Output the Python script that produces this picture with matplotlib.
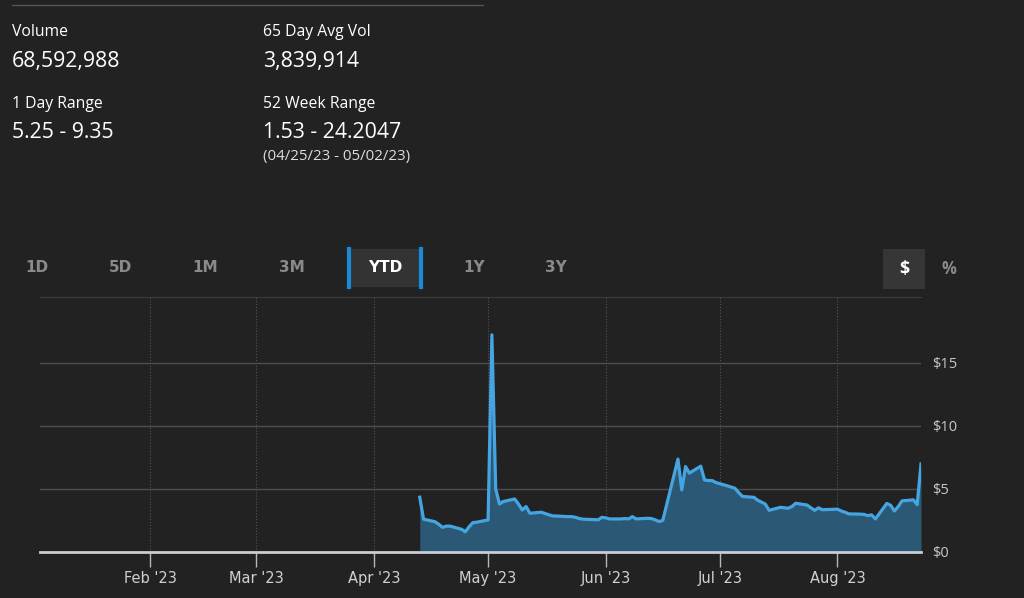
import numpy as np
import pandas as pd
import matplotlib
matplotlib.use("Agg")
import matplotlib.pyplot as plt
import matplotlib.dates as mdates
from matplotlib.patches import Rectangle
from matplotlib.lines import Line2D

# -------- DATA --------
dates = pd.to_datetime([
    "2023-04-13", "2023-04-14", "2023-04-17", "2023-04-18", "2023-04-19", "2023-04-20", "2023-04-21",
    "2023-04-24", "2023-04-25", "2023-04-26", "2023-04-27", "2023-04-28",
    "2023-05-01", "2023-05-02", "2023-05-03", "2023-05-04", "2023-05-05",
    "2023-05-08", "2023-05-09", "2023-05-10", "2023-05-11", "2023-05-12",
    "2023-05-15", "2023-05-16", "2023-05-17", "2023-05-18", "2023-05-19",
    "2023-05-22", "2023-05-23", "2023-05-24", "2023-05-25", "2023-05-26",
    "2023-05-30", "2023-05-31", "2023-06-01", "2023-06-02",
    "2023-06-05", "2023-06-06", "2023-06-07", "2023-06-08", "2023-06-09",
    "2023-06-12", "2023-06-13", "2023-06-14", "2023-06-15", "2023-06-16",
    "2023-06-20", "2023-06-21", "2023-06-22", "2023-06-23",
    "2023-06-26", "2023-06-27", "2023-06-28", "2023-06-29", "2023-06-30",
    "2023-07-03", "2023-07-05", "2023-07-06", "2023-07-07",
    "2023-07-10", "2023-07-11", "2023-07-12", "2023-07-13", "2023-07-14",
    "2023-07-17", "2023-07-18", "2023-07-19", "2023-07-20", "2023-07-21",
    "2023-07-24", "2023-07-25", "2023-07-26", "2023-07-27", "2023-07-28",
    "2023-07-31", "2023-08-01", "2023-08-02", "2023-08-03", "2023-08-04",
    "2023-08-07", "2023-08-08", "2023-08-09", "2023-08-10", "2023-08-11",
    "2023-08-14", "2023-08-15", "2023-08-16", "2023-08-17", "2023-08-18",
    "2023-08-21", "2023-08-22", "2023-08-23",
])
prices = [
    4.34, 2.60, 2.40, 2.20, 1.95, 2.05, 2.05,
    1.80, 1.60, 2.00, 2.33, 2.36,
    2.54, 17.20, 5.00, 3.80, 4.00,
    4.20, 3.80, 3.33, 3.60, 3.07,
    3.15, 3.05, 2.95, 2.86, 2.85,
    2.80, 2.80, 2.75, 2.65, 2.60,
    2.55, 2.75, 2.70, 2.62,
    2.62, 2.65, 2.62, 2.80, 2.62,
    2.67, 2.65, 2.55, 2.41, 2.50,
    7.36, 4.92, 6.77, 6.25,
    6.80, 5.70, 5.66, 5.66, 5.50,
    5.24, 5.05, 4.70, 4.40,
    4.33, 4.10, 3.95, 3.80, 3.30,
    3.54, 3.50, 3.47, 3.60, 3.86,
    3.72, 3.50, 3.30, 3.50, 3.35,
    3.38, 3.39, 3.25, 3.15, 3.02,
    3.00, 2.98, 2.88, 2.94, 2.62,
    3.85, 3.70, 3.25, 3.60, 4.05,
    4.13, 3.75, 6.98,
]

stat_labels = ["Volume", "65 Day Avg Vol", "1 Day Range", "52 Week Range"]
stat_values = ["68,592,988", "3,839,914", "5.25 - 9.35", "1.53 - 24.2047"]
range_dates = "(04/25/23 - 05/02/23)"
tabs = ["1D", "5D", "1M", "3M", "YTD", "1Y", "3Y"]
active_tab = "YTD"
y_ticks = [0, 5, 10, 15]

# -------- STYLE --------
BG = "#222222"
LINE = "#45a5e3"
FILL = "#2b5875"
W, H = 1024, 598
MAIN_FONT = ["Open Sans", "DejaVu Sans"]
NARROW = ["Liberation Sans Narrow", "DejaVu Sans"]

fig = plt.figure(figsize=(W / 100, H / 100), dpi=100, facecolor=BG)


def px(x, y):
    return x / W, 1 - y / H


# -------- HEADER STATS --------
fig.add_artist(Line2D([12 / W, 483 / W], [1 - 5 / H] * 2, color="#555555", lw=1))
pos = [(12, 32), (263, 32), (12, 104), (263, 104)]
for (x, y), lab, val in zip(pos, stat_labels, stat_values):
    fig.text(*px(x, y), lab, color="#ffffff", fontsize=11.3, family=MAIN_FONT, va="center")
    fig.text(*px(x, y + 29), val, color="#ffffff", fontsize=15.3, family=MAIN_FONT, va="center")
fig.text(*px(263, 156), range_dates, color="#dddddd", fontsize=10.8, family=MAIN_FONT, va="center")

# -------- TABS --------
tab_x = [37, 120, 205, 292, 385, 474, 556]
for x, t in zip(tab_x, tabs):
    if t == active_tab:
        fig.add_artist(Rectangle(px(349, 287), 72 / W, 38 / H, color="#333333", lw=0))
        for bx in (349, 421):
            fig.add_artist(Line2D([bx / W] * 2, [1 - 249 / H, 1 - 287 / H], color="#1a8ad4", lw=3))
        fig.text(*px(x, 268), t, color="#ffffff", fontsize=11, weight="bold", family=NARROW,
                 ha="center", va="center")
    else:
        fig.text(*px(x, 268), t, color="#8a8a8a", fontsize=11, weight="bold", family=NARROW,
                 ha="center", va="center")
fig.add_artist(Rectangle(px(883, 289), 42 / W, 40 / H, color="#363636", lw=0))
fig.text(*px(904, 269), "$", color="#ffffff", fontsize=13, weight="bold", family=MAIN_FONT,
         ha="center", va="center")
fig.text(*px(949, 269), "%", color="#8a8a8a", fontsize=12, weight="bold", family=MAIN_FONT,
         ha="center", va="center")

# -------- CHART --------
ax = fig.add_axes([40 / W, 1 - 552 / H, (921 - 40) / W, (552 - 297) / H])
ax.set_facecolor(BG)
ax.fill_between(dates, prices, 0, color=FILL, lw=0)
ax.plot(dates, prices, color=LINE, lw=2.3, solid_joinstyle="round")

ax.set_xlim(pd.Timestamp("2023-01-03"), pd.Timestamp("2023-08-23"))
ax.set_ylim(0, 20.2)

ax.xaxis.set_major_locator(mdates.MonthLocator(bymonth=range(2, 9)))
ax.xaxis.set_major_formatter(mdates.DateFormatter("%b '%y"))
ax.yaxis.tick_right()
ax.set_yticks(y_ticks)
ax.set_yticklabels([f"${v}" for v in y_ticks])

ax.tick_params(axis="x", colors="#b8b8b8", length=11, width=1, pad=3, labelsize=10.5,
               labelcolor="#d0d0d0")
ax.tick_params(axis="y", length=0, pad=8, labelsize=10.5, labelcolor="#c8c8c8")
for lab in ax.get_xticklabels():
    lab.set_family(NARROW)
for lab in ax.get_yticklabels():
    lab.set_family(MAIN_FONT)

ax.grid(axis="y", color="#4e4e4e", lw=1)
ax.grid(axis="x", color="#555555", lw=0.8, linestyle=":")
ax.set_axisbelow(True)

for s in ("left", "right"):
    ax.spines[s].set_visible(False)
ax.spines["top"].set_color("#3c3c3c")
ax.spines["bottom"].set_color("#c8cdd2")
ax.spines["bottom"].set_linewidth(2)
ax.spines["bottom"].set_zorder(5)

fig.savefig("out.png", dpi=100, facecolor=BG)
